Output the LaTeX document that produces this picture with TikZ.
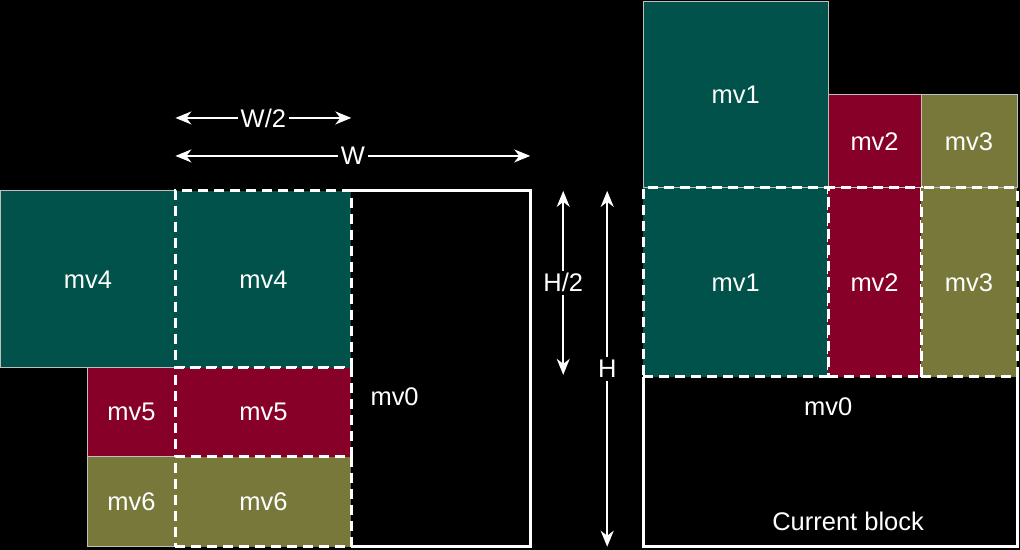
\documentclass[tikz,border=0pt]{standalone}
\usepackage{fontspec}
\setmainfont{Liberation Sans}
\usetikzlibrary{arrows.meta}

\definecolor{mvteal}{RGB}{0,82,74}
\definecolor{mvred}{RGB}{134,0,40}
\definecolor{mvolive}{RGB}{120,120,58}

\begin{document}
\begin{tikzpicture}[x=1pt,y=1pt,
        mv/.style={rectangle,draw=lightgray,line width=1pt,inner sep=0pt,outer sep=0pt,text=white,font=\fontsize{25.5}{29}\selectfont},
        dsh/.style={mv,draw=white,line width=3pt,dash pattern=on 10pt off 6pt},
        blk/.style={rectangle,inner sep=0pt,outer sep=0pt},
        frm/.style={draw=white,line width=3pt},
        dim/.style={draw=white,line width=1.6pt,{Stealth[length=16pt,width=13pt,inset=5pt]}-{Stealth[length=16pt,width=13pt,inset=5pt]}},
        txt/.style={text=white,inner sep=3pt,font=\fontsize{25.5}{29}\selectfont},
        lbl/.style={txt,fill=black}]
        \fill[black] (0,0) rectangle (1020,550);

        % left: neighbours of the block
        \node[mv,fill=mvteal,minimum width=175pt,minimum height=177pt,anchor=north west] (mvfourout) at (0,359) {mv4};
        \node[blk,minimum width=176pt,minimum height=177pt,anchor=north west] (mvfourpos) at (mvfourout.north east) {};
        \node[blk,minimum width=179pt,minimum height=356pt,anchor=north west] (mvzero) at (mvfourpos.north east) {};
        \node[mv,fill=mvred,minimum width=88pt,minimum height=89pt,anchor=north east] (mvfiveout) at (mvfourpos.south west) {mv5};
        \node[mv,fill=mvolive,minimum width=88pt,minimum height=90pt,anchor=north east] (mvsixout) at ([yshift=-89pt]mvfourpos.south west) {mv6};

        \draw[frm] (mvzero.north west) -- (mvzero.north east) -- (mvzero.south east) -- (mvzero.south west);
        \node[txt,anchor=west] (mvzerotxt) at ([xshift=16pt,yshift=-28pt]mvzero.west) {mv0};

        \node[dsh,fill=mvteal,minimum width=176pt,minimum height=177pt,anchor=north west] (mvfourin) at (mvfourout.north east) {mv4};
        \node[dsh,fill=mvred,minimum width=176pt,minimum height=89pt,anchor=north west] (mvfivein) at (mvfourin.south west) {mv5};
        \node[dsh,fill=mvolive,minimum width=176pt,minimum height=90pt,anchor=north west] (mvsixin) at (mvfivein.south west) {mv6};

        % dimensions
        \coordinate (halfa) at ([yshift=73pt]mvfourin.north west);
        \coordinate (halfb) at ([yshift=73pt]mvfourin.north east);
        \coordinate (fulla) at ([yshift=35pt]mvfourin.north west);
        \coordinate (fullb) at ([yshift=35pt]mvzero.north east);
        \coordinate (hhalfa) at ([xshift=33pt]mvzero.north east);
        \coordinate (hhalfb) at ([xshift=33pt,yshift=-6pt]mvzero.east);
        \coordinate (hfulla) at ([xshift=77pt]mvzero.north east);
        \coordinate (hfullb) at ([xshift=77pt]mvzero.south east);
        \draw[dim] (halfa) -- (halfb) node[lbl,midway] (wh) {W/2};
        \draw[dim] (fulla) -- (fullb) node[lbl,midway] (wf) {W};
        \draw[dim] (hhalfa) -- (hhalfb) node[lbl,midway] (hh) {H/2};
        \draw[dim] (hfulla) -- (hfullb) node[lbl,midway] (hf) {H};

        % right: neighbours above the current block
        \node[mv,fill=mvteal,minimum width=185pt,minimum height=186pt,anchor=north west] (mvoneout) at (643,548) {mv1};
        \node[mv,fill=mvred,minimum width=93pt,minimum height=93pt,anchor=south west] (mvtwoout) at (mvoneout.south east) {mv2};
        \node[mv,fill=mvolive,minimum width=96pt,minimum height=93pt,anchor=south west] (mvthreeout) at (mvtwoout.south east) {mv3};
        \node[blk,minimum width=374pt,minimum height=170pt,anchor=north west] (cur) at ([yshift=-189pt]mvoneout.south west) {};

        \draw[frm] (cur.north west) -- (cur.south west) -- (cur.south east) -- (cur.north east);
        \node[txt] (curzero) at ([xshift=-2pt,yshift=55pt]cur.center) {mv0};
        \node[txt] (curtxt) at ([xshift=18pt,yshift=-60pt]cur.center) {Current block};

        \node[dsh,fill=mvteal,minimum width=185pt,minimum height=189pt,anchor=north west] (mvonein) at (mvoneout.south west) {mv1};
        \node[dsh,fill=mvred,minimum width=93pt,minimum height=189pt,anchor=north west] (mvtwoin) at (mvonein.north east) {mv2};
        \node[dsh,fill=mvolive,minimum width=96pt,minimum height=189pt,anchor=north west] (mvthreein) at (mvtwoin.north east) {mv3};
    \end{tikzpicture}
\end{document}
